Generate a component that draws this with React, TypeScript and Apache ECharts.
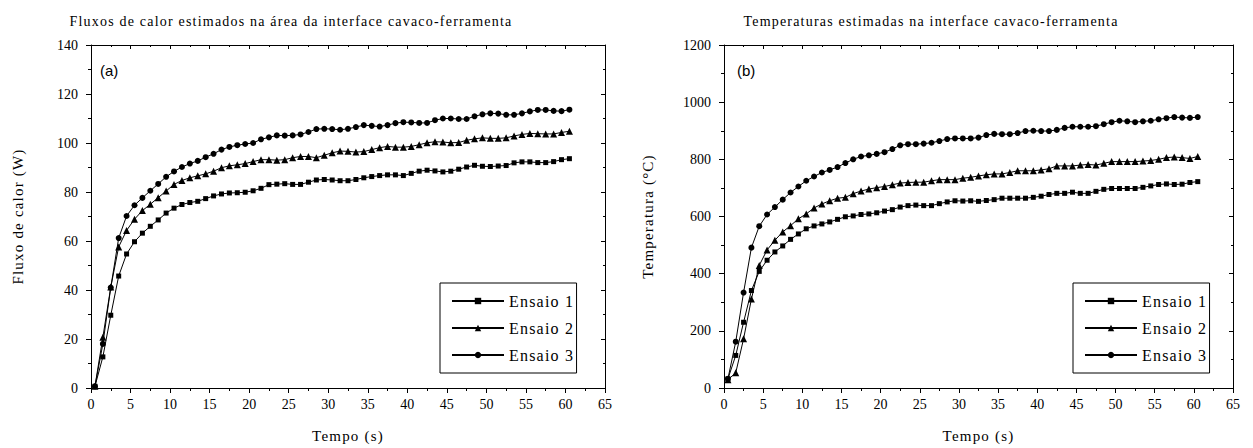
import React, { useEffect, useRef } from "react";
import * as echarts from "echarts";

// Tempo (s) of each estimated point
const tempo = [
  0.5, 1.5, 2.5, 3.5, 4.5, 5.5, 6.5, 7.5, 8.5, 9.5,
  10.5, 11.5, 12.5, 13.5, 14.5, 15.5, 16.5, 17.5, 18.5, 19.5,
  20.5, 21.5, 22.5, 23.5, 24.5, 25.5, 26.5, 27.5, 28.5, 29.5,
  30.5, 31.5, 32.5, 33.5, 34.5, 35.5, 36.5, 37.5, 38.5, 39.5,
  40.5, 41.5, 42.5, 43.5, 44.5, 45.5, 46.5, 47.5, 48.5, 49.5,
  50.5, 51.5, 52.5, 53.5, 54.5, 55.5, 56.5, 57.5, 58.5, 59.5,
  60.5,
];

// (a) Fluxo de calor (W)
const fluxoEnsaio1 = [
  0.7, 12.7, 29.7, 45.7, 54.7, 59.7, 63.2, 66, 68.6, 71.4,
  73.4, 74.9, 75.7, 76.2, 77.3, 78.4, 79.2, 79.6, 79.7, 79.9,
  80.5, 81.5, 83, 83.2, 83.4, 83.1, 83.1, 84, 84.9, 85.1,
  84.9, 84.6, 84.6, 85.1, 85.8, 86.3, 86.7, 87.0, 87.0, 86.7,
  87.6, 88.5, 88.9, 88.6, 88.2, 88.5, 89.3, 90.2, 90.9, 90.5,
  90.4, 90.6, 90.8, 91.9, 92.3, 92.3, 92.0, 92.0, 92.4, 93.2,
  93.6,
];
const fluxoEnsaio2 = [
  0.7, 20.7, 41.2, 57.6, 64.3, 68.9, 72.4, 75, 77.7, 80.4,
  83.1, 84.7, 85.8, 86.6, 87.4, 88.5, 89.9, 90.7, 91.1, 91.6,
  92.4, 93.2, 93.2, 93, 93.2, 94, 94.5, 94.5, 94, 95,
  96, 96.7, 96.6, 96.3, 96.5, 97.3, 98.1, 98.6, 98.3, 98.3,
  98.6, 99.3, 100.1, 100.5, 100.4, 100.1, 100.2, 101.1, 101.7, 102.1,
  101.9, 101.9, 102.1, 102.9, 103.5, 103.9, 103.8, 103.7, 103.7, 104.3,
  104.8,
];
const fluxoEnsaio3 = [
  0.7, 18, 41, 61.2, 70.2, 74.6, 77.6, 80.5, 83.3, 86.2,
  88.4, 90.2, 91.6, 92.7, 94.2, 95.6, 97.3, 98.4, 99.1, 99.6,
  100, 101.5, 102.3, 103.1, 103, 103.1, 103.5, 104.5, 105.7, 105.8,
  105.7, 105.4, 105.8, 106.5, 107.3, 107, 106.7, 107.3, 108.1, 108.5,
  108.4, 108.2, 108.2, 109.3, 110, 110, 109.8, 109.8, 110.9, 111.7,
  112.1, 112, 111.5, 111.5, 112.1, 112.9, 113.5, 113.5, 113.1, 113,
  113.6,
];

// (b) Temperatura (°C)
const tempEnsaio1 = [
  32, 114, 230, 341, 408, 447, 476, 497, 520, 539,
  557, 567, 574, 581, 590, 599, 602, 607, 609, 613,
  619, 624, 633, 638, 640, 638, 638, 645, 651, 655,
  654, 655, 653, 656, 659, 664, 664, 664, 664, 667,
  671, 677, 681, 681, 685, 681, 681, 688, 695, 698,
  698, 698, 698, 702, 707, 712, 714, 712, 713, 719,
  722,
];
const tempEnsaio2 = [
  29, 53, 172, 311, 429, 483, 517, 546, 568, 592,
  609, 630, 644, 655, 664, 667, 680, 689, 696, 701,
  705, 711, 717, 719, 720, 720, 725, 729, 729, 729,
  734, 737, 742, 746, 749, 749, 754, 760, 760, 760,
  763, 767, 777, 777, 777, 780, 782, 780, 786, 792,
  792, 792, 792, 794, 796, 800, 806, 808, 806, 803,
  810,
];
const tempEnsaio3 = [
  32, 162, 334, 491, 566, 607, 633, 659, 684, 705,
  725, 740, 754, 763, 773, 787, 800, 810, 814, 819,
  825, 836, 849, 853, 853, 855, 858, 864, 871, 873,
  873, 873, 876, 885, 889, 888, 888, 892, 899, 900,
  899, 899, 903, 910, 914, 914, 914, 916, 923, 930,
  935, 933, 930, 933, 935, 940, 944, 948, 946, 945,
  948,
];

const seriesNames = ["Ensaio 1", "Ensaio 2", "Ensaio 3"];
const xTicks = { min: 0, max: 65, interval: 5 };
const yTicksA = { min: 0, max: 140, interval: 20 };
const yTicksB = { min: 0, max: 1200, interval: 200 };

const titleA = "Fluxos de calor estimados na área da interface cavaco-ferramenta";
const titleB = "Temperaturas estimadas na interface cavaco-ferramenta";
const xName = "Tempo (s)";
const yNameA = "Fluxo de calor (W)";
const yNameB = "Temperatura (°C)";

const SERIF = "'Liberation Serif', serif";
const SPACED = "'Liberation Serif', Tinos, serif";
const BLACK = "#000";

function pairs(ys: number[]) {
  return ys.map((y, i) => [tempo[i], y]);
}

const lineStyle = { color: BLACK, width: 1 };

function mainAxis(gridIndex: number, range: any, name: string, nameGap: number, isX: boolean) {
  return {
    gridIndex,
    type: "value",
    ...range,
    name,
    nameLocation: "middle",
    nameGap,
    nameTextStyle: { fontFamily: SPACED, fontSize: 15, color: BLACK },
    axisLine: { show: true, onZero: false, lineStyle },
    axisTick: { show: true, inside: false, length: 5, lineStyle },
    minorTick: { show: true, splitNumber: 2, length: 3, lineStyle },
    splitLine: { show: false },
    minorSplitLine: { show: false },
    axisLabel: {
      color: BLACK,
      fontFamily: SERIF,
      fontSize: 14,
      margin: isX ? 9 : 13,
      formatter: (v: number) => String(v),
    },
  };
}

function mirrorAxis(gridIndex: number, range: any, position: string) {
  return {
    gridIndex,
    type: "value",
    position,
    ...range,
    axisLine: { show: true, onZero: false, lineStyle },
    axisTick: { show: true, inside: true, length: 4, lineStyle },
    minorTick: { show: true, splitNumber: 2, length: 2, lineStyle },
    splitLine: { show: false },
    axisLabel: { show: false },
  };
}

function makeSeries(name: string, ys: number[], axis: number, symbol: string, size: number) {
  return {
    type: "line",
    name,
    data: pairs(ys),
    xAxisIndex: axis,
    yAxisIndex: axis,
    symbol,
    symbolSize: size,
    showAllSymbol: true,
    lineStyle,
    itemStyle: { color: BLACK },
    emphasis: { disabled: true },
  };
}

function legendAt(left: number) {
  return {
    data: seriesNames,
    orient: "vertical",
    left,
    top: 283,
    itemWidth: 52,
    itemHeight: 8,
    itemGap: 11,
    padding: [10, 12, 10, 11],
    borderColor: BLACK,
    borderWidth: 1,
    selectedMode: false,
    textStyle: { fontFamily: SPACED, fontSize: 16, color: BLACK },
  };
}

export default function App() {
  const ref = useRef<HTMLDivElement>(null);

  useEffect(() => {
    document.body.style.margin = "0";
    const chart = echarts.init(ref.current!, null, { renderer: "svg" });
    const option: any = {
      animation: false,
      backgroundColor: "#fff",
      textStyle: { fontFamily: SERIF, color: BLACK },
      grid: [
        { left: 91, top: 45, width: 514, height: 344 },
        { left: 724, top: 45, width: 509, height: 344 },
      ],
      xAxis: [
        mainAxis(0, xTicks, xName, 40, true),
        mirrorAxis(0, xTicks, "top"),
        mainAxis(1, xTicks, xName, 40, true),
        mirrorAxis(1, xTicks, "top"),
      ],
      yAxis: [
        mainAxis(0, yTicksA, yNameA, 66, false),
        mirrorAxis(0, yTicksA, "right"),
        mainAxis(1, yTicksB, yNameB, 69, false),
        mirrorAxis(1, yTicksB, "right"),
      ],
      legend: [legendAt(440), legendAt(1073)],
      graphic: [
        {
          type: "text",
          x: 291,
          y: 21,
          style: { text: titleA, align: "center", verticalAlign: "middle", fontFamily: SPACED, fontSize: 14, fill: BLACK },
        },
        {
          type: "text",
          x: 931,
          y: 21,
          style: { text: titleB, align: "center", verticalAlign: "middle", fontFamily: SPACED, fontSize: 14, fill: BLACK },
        },
        {
          type: "text",
          x: 100,
          y: 70,
          style: { text: "(a)", align: "left", verticalAlign: "middle", fontFamily: "'Liberation Sans', sans-serif", fontSize: 15, fill: BLACK },
        },
        {
          type: "text",
          x: 737,
          y: 70,
          style: { text: "(b)", align: "left", verticalAlign: "middle", fontFamily: "'Liberation Sans', sans-serif", fontSize: 15, fill: BLACK },
        },
      ],
      series: [
        makeSeries(seriesNames[0], fluxoEnsaio1, 0, "rect", 5),
        makeSeries(seriesNames[1], fluxoEnsaio2, 0, "triangle", 7),
        makeSeries(seriesNames[2], fluxoEnsaio3, 0, "circle", 6),
        makeSeries(seriesNames[0], tempEnsaio1, 2, "rect", 5),
        makeSeries(seriesNames[1], tempEnsaio2, 2, "triangle", 7),
        makeSeries(seriesNames[2], tempEnsaio3, 2, "circle", 6),
      ],
    };
    chart.setOption(option);
    return () => chart.dispose();
  }, []);

  return (
    <>
      <style>{`text[style*="Tinos"]{letter-spacing:1.2px}`}</style>
      <div ref={ref} style={{ width: 1253, height: 448, background: "#fff" }} />
    </>
  );
}
